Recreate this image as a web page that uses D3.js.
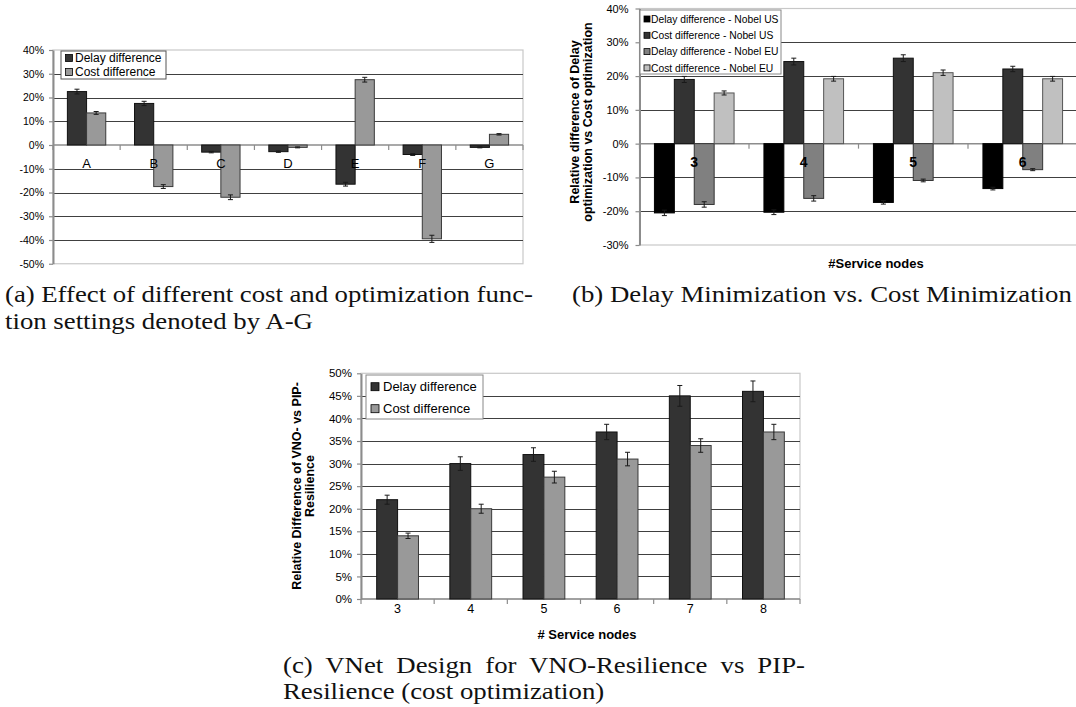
<!DOCTYPE html>
<html>
<head>
<meta charset="utf-8">
<script src="https://cdn.jsdelivr.net/npm/d3@7"></script>
<style>
  body { margin: 0; background: #fff; }
  svg { display: block; }
</style>
</head>
<body>
<svg id="fig" width="1076" height="707"></svg>
<script>
// ---- (a) cost / optimization function settings A-G ----
const settingsA = ["A", "B", "C", "D", "E", "F", "G"];
const delayDiffA = [22.5, 17.5, -3, -2.8, -16.5, -4, -1];
const delayErrA  = [1, 0.9, 0.3, 0.3, 0.8, 0.4, 0.2];
const costDiffA  = [13.5, -17.5, -22, -1, 27.5, -39.5, 4.5];
const costErrA   = [0.6, 0.8, 1, 0.2, 1, 1.5, 0.3];
const ticksA = [40, 30, 20, 10, 0, -10, -20, -30, -40, -50];

// ---- (b) delay minimization vs cost minimization ----
const nodesB = ["3", "4", "5", "6"];
const delayUS    = [-20.5, -20.3, -17.4, -13.3];
const delayUSErr = [0.8, 0.7, 0.5, 0.4];
const costUS     = [19, 24.3, 25.3, 22.1];
const costUSErr  = [0.9, 1, 1, 0.8];
const delayEU    = [-18, -16.2, -10.9, -7.7];
const delayEUErr = [0.8, 0.8, 0.4, 0.3];
const costEU     = [15, 19.2, 21, 19.2];
const costEUErr  = [0.6, 0.7, 0.8, 0.7];
const ticksB = [40, 30, 20, 10, 0, -10, -20, -30];

// ---- (c) VNO- vs PIP-resilience ----
const nodesC = ["3", "4", "5", "6", "7", "8"];
const delayC    = [22, 30, 32, 37, 45, 46];
const delayErrC = [1, 1.5, 1.5, 1.7, 2.3, 2.3];
const costC     = [14, 20, 27, 31, 34, 37];
const costErrC  = [0.6, 1, 1.3, 1.5, 1.5, 1.7];
const ticksC = [50, 45, 40, 35, 30, 25, 20, 15, 10, 5, 0];

// ---- captions ----
const captionA = ["(a) Effect of different cost and optimization func-", "tion settings denoted by A-G"];
const captionB = ["(b) Delay Minimization vs. Cost Minimization"];
const captionC = ["(c) VNet Design for VNO-Resilience vs PIP-", "Resilience (cost optimization)"];

const SANS = "'Liberation Sans', Arial, sans-serif";
const SERIF = "'Liberation Serif', 'Times New Roman', serif";

const svg = d3.select("#fig");
svg.append("rect").attr("width", 1076).attr("height", 707).attr("fill", "#fff");

function drawPanel(cfg) {
  const g = svg.append("g");
  const lo = d3.min(cfg.ticks), hi = d3.max(cfg.ticks);
  const y = d3.scaleLinear().domain([lo, hi]).range([cfg.bottom, cfg.top]);
  const x = d3.scaleBand().domain(cfg.cats).range([cfg.left, cfg.right]);
  const n = cfg.series.length;
  const bw = x.bandwidth() / (n + 1.5);
  const slot = d3.scaleBand().domain(d3.range(n)).range([-n * bw / 2, n * bw / 2]);
  const y0 = y(0);

  // plot area frame
  g.append("rect")
    .attr("x", cfg.left).attr("y", cfg.top)
    .attr("width", cfg.right - cfg.left).attr("height", cfg.bottom - cfg.top)
    .attr("fill", "none").attr("stroke", "#c8c8c8").attr("stroke-width", 1.2);

  // horizontal gridlines
  g.append("g").selectAll("line")
    .data(cfg.ticks.filter(t => t !== lo && t !== hi && t !== 0))
    .join("line")
    .attr("x1", cfg.left).attr("x2", cfg.right)
    .attr("y1", d => Math.round(y(d)) + 0.5).attr("y2", d => Math.round(y(d)) + 0.5)
    .attr("stroke", "#404040").attr("stroke-width", 1);

  // value axis
  const ax = g.append("g")
    .attr("transform", `translate(${cfg.left},0)`)
    .call(d3.axisLeft(y).tickValues(cfg.ticks).tickFormat(d => d + "%")
      .tickSize(4).tickSizeOuter(0).tickPadding(cfg.tickPad));
  ax.select(".domain").attr("stroke", "#8c8c8c").attr("stroke-width", 2);
  ax.selectAll(".tick line").attr("stroke", "#8c8c8c").attr("stroke-width", 1.2);
  ax.selectAll("text").attr("font-family", SANS).attr("font-size", cfg.tickFont).attr("fill", "#000");

  // category axis on the zero line
  g.append("line")
    .attr("x1", cfg.left).attr("x2", cfg.right).attr("y1", y0).attr("y2", y0)
    .attr("stroke", "#8c8c8c").attr("stroke-width", 1.5);
  const bounds = cfg.cats.map(c => x(c)).concat([x.range()[1]]);
  g.append("g").selectAll("line").data(bounds).join("line")
    .attr("x1", d => d).attr("x2", d => d).attr("y1", y0).attr("y2", y0 + 5)
    .attr("stroke", "#8c8c8c").attr("stroke-width", 1.2);

  // bars with error bars
  cfg.series.forEach((s, i) => {
    const cx = j => x(cfg.cats[j]) + x.bandwidth() / 2 + slot(i);
    g.append("g").selectAll("rect").data(s.values).join("rect")
      .attr("x", (d, j) => cx(j))
      .attr("width", slot.bandwidth())
      .attr("y", d => y(Math.max(0, d)))
      .attr("height", d => Math.abs(y(d) - y0))
      .attr("fill", s.fill).attr("stroke", s.stroke).attr("stroke-width", 1);
    const eg = g.append("g").attr("stroke", "#1a1a1a").attr("stroke-width", 1);
    s.values.forEach((v, j) => {
      const mx = cx(j) + slot.bandwidth() / 2;
      const e = s.errs[j];
      eg.append("line").attr("x1", mx).attr("x2", mx).attr("y1", y(v - e)).attr("y2", y(v + e));
      eg.append("line").attr("x1", mx - 2.5).attr("x2", mx + 2.5).attr("y1", y(v - e)).attr("y2", y(v - e));
      eg.append("line").attr("x1", mx - 2.5).attr("x2", mx + 2.5).attr("y1", y(v + e)).attr("y2", y(v + e));
    });
  });

  // category labels
  g.append("g").selectAll("text").data(cfg.cats).join("text")
    .attr("x", d => x(d) + x.bandwidth() / 2)
    .attr("y", y0 + cfg.catDy)
    .attr("text-anchor", "middle")
    .attr("font-family", SANS).attr("font-size", cfg.catFont)
    .attr("font-weight", cfg.catBold ? "bold" : "normal")
    .text(d => d);

  // legend
  const L = cfg.legend;
  const lg = g.append("g");
  lg.append("rect").attr("x", L.x).attr("y", L.y).attr("width", L.w).attr("height", L.h)
    .attr("fill", "#fff").attr("stroke", L.border).attr("stroke-width", 1);
  cfg.series.forEach((s, i) => {
    const cy = L.y + L.first + i * L.row;
    lg.append("rect").attr("x", L.sx).attr("y", cy - L.sw / 2).attr("width", L.sw).attr("height", L.sw)
      .attr("fill", s.fill).attr("stroke", "#000").attr("stroke-width", 0.8);
    lg.append("text").attr("x", L.tx).attr("y", cy).attr("dy", "0.35em")
      .attr("font-family", SANS).attr("font-size", L.font).text(s.name);
  });

  // axis titles
  if (cfg.xTitle) {
    g.append("text").attr("x", cfg.xTitle.x).attr("y", cfg.xTitle.y).attr("text-anchor", "middle")
      .attr("font-family", SANS).attr("font-size", cfg.xTitle.size).attr("font-weight", "bold")
      .text(cfg.xTitle.text);
  }
  if (cfg.yTitle) {
    cfg.yTitle.lines.forEach((t, k) => {
      g.append("text")
        .attr("transform", `translate(${cfg.yTitle.xs[k]},${cfg.yTitle.cy}) rotate(-90)`)
        .attr("text-anchor", "middle").attr("dy", "0.35em")
        .attr("font-family", SANS).attr("font-size", cfg.yTitle.size).attr("font-weight", "bold")
        .text(t);
    });
  }
}

// (a)
drawPanel({
  cats: settingsA, ticks: ticksA,
  left: 53, right: 523, top: 50, bottom: 263.75,
  tickFont: 10.5, tickPad: 5, catFont: 13, catDy: 22.5, catBold: false,
  series: [
    { name: "Delay difference", values: delayDiffA, errs: delayErrA, fill: "#333333", stroke: "#111" },
    { name: "Cost difference", values: costDiffA, errs: costErrA, fill: "#999999", stroke: "#3a3a3a" }
  ],
  legend: { x: 61, y: 51, w: 105, h: 28, first: 7, row: 14, sx: 65.5, sw: 7, tx: 75, font: 12, border: "#555" }
});

// (b)
drawPanel({
  cats: nodesB, ticks: ticksB,
  left: 639.5, right: 1077.5, top: 8.5, bottom: 245,
  tickFont: 11, tickPad: 7, catFont: 14, catDy: 23, catBold: true,
  series: [
    { name: "Delay difference - Nobel US", values: delayUS, errs: delayUSErr, fill: "#000000", stroke: "#000" },
    { name: "Cost difference - Nobel US", values: costUS, errs: costUSErr, fill: "#333333", stroke: "#111" },
    { name: "Delay difference - Nobel EU", values: delayEU, errs: delayEUErr, fill: "#808080", stroke: "#333" },
    { name: "Cost difference - Nobel EU", values: costEU, errs: costEUErr, fill: "#c0c0c0", stroke: "#555" }
  ],
  legend: { x: 640, y: 10, w: 141, h: 64, first: 9, row: 16.3, sx: 644, sw: 6, tx: 651, font: 10.3, border: "#888" },
  xTitle: { text: "#Service nodes", x: 876, y: 268, size: 13 },
  yTitle: { lines: ["Relative difference of Delay", "optimization vs Cost optimization"], xs: [575, 588], cy: 122, size: 12.5 }
});

// (c)
drawPanel({
  cats: nodesC, ticks: ticksC,
  left: 361, right: 800, top: 373.3, bottom: 599,
  tickFont: 11.5, tickPad: 5, catFont: 12.5, catDy: 14, catBold: false,
  series: [
    { name: "Delay difference", values: delayC, errs: delayErrC, fill: "#333333", stroke: "#111" },
    { name: "Cost difference", values: costC, errs: costErrC, fill: "#999999", stroke: "#3a3a3a" }
  ],
  legend: { x: 366, y: 375, w: 117, h: 44, first: 11.7, row: 22, sx: 371, sw: 8, tx: 383, font: 13, border: "#888" },
  xTitle: { text: "# Service nodes", x: 587, y: 639, size: 13 },
  yTitle: { lines: ["Relative Difference of VNO- vs PIP-", "Resilience"], xs: [296.7, 309.3], cy: 486, size: 12.5 }
});

// ---- captions (serif, stretched to the column widths) ----
const CAP_SIZE = 24;
function capText(str) {
  return svg.append("text").attr("font-family", SERIF).attr("font-size", CAP_SIZE).attr("fill", "#111").text(str);
}
const probe = capText(captionB[0]);
const sx = 500 / probe.node().getComputedTextLength();
probe.remove();

function placeCaption(lines, x, y0, lead, justifyWidth) {
  lines.forEach((str, k) => {
    const t = capText(str).attr("transform", `translate(${x},${y0 + k * lead}) scale(${sx},1)`);
    if (k < lines.length - 1 && justifyWidth) {
      const w = t.node().getComputedTextLength();
      const spaces = (str.match(/ /g) || []).length;
      t.attr("word-spacing", (justifyWidth / sx - w) / spaces);
    }
  });
}
placeCaption(captionA, 5, 302, 27, 528);
placeCaption(captionB, 572, 302, 27, null);
placeCaption(captionC, 283, 673, 26, 522);
</script>
</body>
</html>
